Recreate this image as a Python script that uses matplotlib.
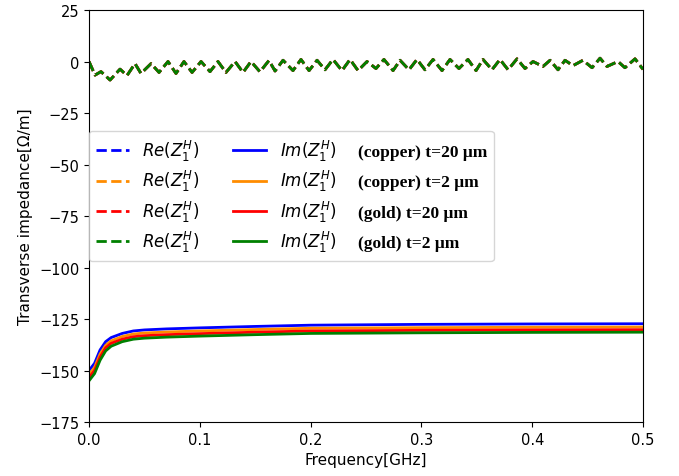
import matplotlib
matplotlib.use("Agg")
import matplotlib.pyplot as plt
from matplotlib.lines import Line2D

freq_re = [0.0, 0.0054, 0.0108, 0.0190, 0.0280, 0.0343, 0.0415, 0.0469, 0.0560, 0.0632,
           0.0713, 0.0785, 0.0857, 0.0930, 0.1011, 0.1092, 0.1164, 0.1236, 0.1318, 0.1390,
           0.1462, 0.1543, 0.1624, 0.1679, 0.1751, 0.1841, 0.1913, 0.1986, 0.2058, 0.2130,
           0.2202, 0.2283, 0.2356, 0.2428, 0.2509, 0.2590, 0.2662, 0.2744, 0.2807, 0.2888,
           0.2960, 0.3032, 0.3105, 0.3186, 0.3258, 0.3339, 0.3420, 0.3493, 0.3556, 0.3637,
           0.3709, 0.3782, 0.3863, 0.3935, 0.4007, 0.4097, 0.4161, 0.4233, 0.4296, 0.4368,
           0.4458, 0.4540, 0.4612, 0.4675, 0.4774, 0.4837, 0.4928, 0.5000]
re_vals = [0.0, -6.6, -4.9, -9.0, -3.7, -6.8, -1.0, -5.8, -1.0, -5.3,
           0.0, -5.8, 0.0, -5.3, 0.0, -4.9, 0.0, -5.3, 0.0, -5.3,
           0.0, -5.0, 0.5, -4.6, 0.6, -4.4, 1.0, -4.4, 0.6, -4.0,
           1.0, -4.4, 1.0, -4.4, 0.0, -3.4, 1.0, -4.4, 0.6, -4.0,
           1.0, -4.0, 1.0, -4.4, 1.0, -3.4, 1.0, -4.4, 1.0, -4.0,
           1.0, -4.0, 1.3, -3.4, 0.0, -2.4, 0.6, -4.0, 0.6, -2.0,
           0.6, -3.0, 1.6, -2.4, 0.0, -3.0, 1.3, -3.8]

# Im part
freq_im = [0.0, 0.005, 0.01, 0.015, 0.02, 0.03, 0.04, 0.05, 0.07, 0.1, 0.15, 0.2, 0.3, 0.4, 0.5]
im_cu20 = [-150.0, -146.5, -140.0, -136.0, -134.0, -132.0, -130.8, -130.3, -129.8, -129.3,
           -128.6, -128.0, -127.6, -127.4, -127.3]
im_cu2 = [-152.0, -148.5, -142.0, -137.8, -135.6, -133.5, -132.3, -131.8, -131.3, -130.8,
          -130.1, -129.5, -129.2, -129.0, -128.9]
im_au20 = [-153.5, -150.0, -143.5, -139.0, -136.8, -134.8, -133.6, -133.1, -132.6, -132.1,
           -131.4, -130.8, -130.5, -130.3, -130.2]
im_au2 = [-155.0, -151.5, -145.0, -140.5, -138.2, -136.0, -134.8, -134.3, -133.8, -133.3,
          -132.6, -132.0, -131.7, -131.5, -131.4]

cases = ["(copper) t=20 μm", "(copper) t=2 μm", "(gold) t=20 μm", "(gold) t=2 μm"]
colors = ["blue", "darkorange", "red", "green"]

fig = plt.figure(figsize=(6.79, 4.77), dpi=100)
ax = fig.add_axes([0.1311, 0.1132, 0.8159, 0.8637])

re_lines = []
for c in colors:
    ln, = ax.plot(freq_re, re_vals, "--", color=c, linewidth=2)
    re_lines.append(ln)
im_lines = []
for vals, c in zip([im_cu20, im_cu2, im_au20, im_au2], colors):
    ln, = ax.plot(freq_im, vals, "-", color=c, linewidth=2)
    im_lines.append(ln)

ax.set_xlim(0, 0.5)
ax.set_ylim(-175, 25)
ax.set_xticks([0.0, 0.1, 0.2, 0.3, 0.4, 0.5])
ax.set_yticks([-175, -150, -125, -100, -75, -50, -25, 0, 25])
ax.tick_params(labelsize=10.5)
ax.set_xlabel("Frequency[GHz]", fontsize=11)
ax.set_ylabel("Transverse impedance[Ω/m]", fontsize=11)

blanks = [Line2D([], [], linestyle="none") for _ in cases]
leg = ax.legend(re_lines + im_lines + blanks,
                [r"$Re(Z_1^H)$"] * 4 + [r"$Im(Z_1^H)$"] * 4 + cases,
                ncol=3, fontsize=12, loc="upper left", labelspacing=0.32,
                bbox_to_anchor=(0.0, 0.706), borderaxespad=0)
for t in leg.get_texts()[8:]:
    t.set_fontfamily("Liberation Serif")
    t.set_fontweight("bold")
    t.set_fontsize(12.5)

# third column has no handle: pull its text next to the Im labels
# and give each row the same height as the mathtext rows
fig.canvas.draw()
renderer = fig.canvas.get_renderer()
pts = renderer.points_to_pixels(1.0)
cols = leg._legend_handle_box.get_children()
for item2, item3 in zip(cols[1].get_children(), cols[2].get_children()):
    tb = item2.get_children()[1].get_bbox(renderer)
    da = item3.get_children()[0]
    item3.sep = 0
    da.width = -8.5
    da.height = tb.height / pts
    da.ydescent = -tb.y0 / pts

fig.savefig("out.png", dpi=100)
